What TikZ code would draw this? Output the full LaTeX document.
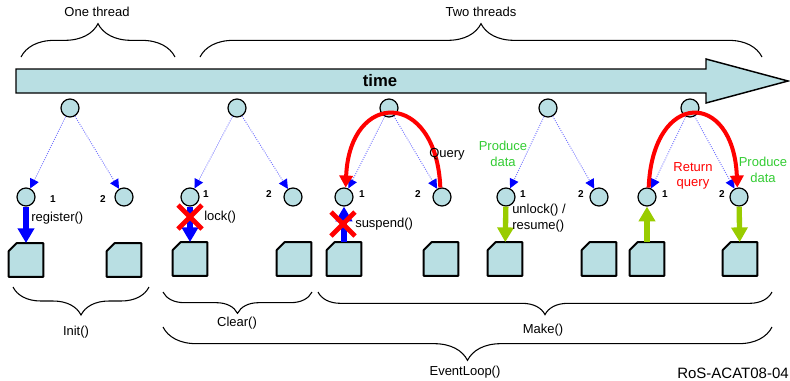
\documentclass[tikz,border=0pt]{standalone}
\usepackage{fontspec}
\setmainfont{Liberation Sans}
\usetikzlibrary{arrows.meta,shapes.misc,decorations.pathreplacing}

\definecolor{pale}{RGB}{185,223,227}
\definecolor{lime}{RGB}{153,204,0}
\definecolor{leafgreen}{RGB}{51,204,51}

\tikzset{
  thread/.style={draw,circle,fill=pale,line width=0.9pt,minimum size=13.5pt,inner sep=0pt},
  docbox/.style={minimum width=25.5pt,minimum height=25pt,inner sep=0pt,
    append after command={\pgfextra{\draw[fill=pale,line width=1.5pt,line join=round]
      (\tikzlastnode.south west) -- (\tikzlastnode.south east) -- (\tikzlastnode.north east)
      -- ([xshift=6pt]\tikzlastnode.north west) -- ([yshift=-6pt]\tikzlastnode.north west) -- cycle;}}},
  spawn/.style={densely dotted,draw=blue!55,line width=0.7pt,-{Triangle[width=7pt,length=7pt,color=blue]}},
  call/.style={line width=4pt,-{Triangle[width=12pt,length=11pt]}},
  query/.style={red,line width=3pt,-{Triangle[width=10pt,length=9pt]}},
  nope/.style={cross out,draw=red,line width=3.5pt,minimum size=14.5pt,inner sep=0pt},
  lbl/.style={font=\fontsize{9.75}{11.5}\selectfont,inner sep=0pt},
  num/.style={font=\bfseries\fontsize{7.5}{9}\selectfont,inner sep=0pt},
  topbrace/.style={decorate,decoration={brace,amplitude=#1},line width=0.8pt},
  lowbrace/.style={decorate,decoration={brace,mirror,amplitude=#1},line width=0.8pt},
}

\begin{document}
\begin{tikzpicture}[x=0.75pt,y=-0.75pt]
  \useasboundingbox (0,0) rectangle (790,380);

  % time line
  \draw[fill=pale,line width=1.1pt] (16,69) -- (706,69) -- (706,59) -- (788,81)
    -- (706,103) -- (706,93) -- (16,93) -- cycle;
  \node[font=\bfseries\fontsize{12.5}{14}\selectfont] (time) at (380,81) {time};

  % threads
  \node [thread] (r1) at (70,108) {};
  \node [thread] (r2) at (237,108) {};
  \node [thread] (r3) at (389,108) {};
  \node [thread] (r4) at (548,108) {};
  \node [thread] (r5) at (690,108) {};

  \node [thread] (c11) at (26,197) {};
  \node [thread] (c12) at (124,197) {};
  \node [thread] (c21) at (190,197) {};
  \node [thread] (c22) at (293,197) {};
  \node [thread] (c31) at (344,197) {};
  \node [thread] (c32) at (442,197) {};
  \node [thread] (c41) at (506,197) {};
  \node [thread] (c42) at (599,197) {};
  \node [thread] (c51) at (647,197) {};
  \node [thread] (c52) at (739,197) {};

  \node [num] (n11) at (53,199) {1};
  \node [num] (n12) at (103,199) {2};
  \node [num] (n21) at (206,194) {1};
  \node [num] (n22) at (269,194) {2};
  \node [num] (n31) at (362,194) {1};
  \node [num] (n32) at (418,194) {2};
  \node [num] (n41) at (523,194) {1};
  \node [num] (n42) at (581,194) {2};
  \node [num] (n51) at (665,194) {1};
  \node [num] (n52) at (722,194) {2};

  % data blocks
  \node [docbox] (b11) at (26,260) {};
  \node [docbox] (b12) at (124,260) {};
  \node [docbox] (b21) at (190,259) {};
  \node [docbox] (b22) at (294,259) {};
  \node [docbox] (b31) at (344,259) {};
  \node [docbox] (b32) at (441,259) {};
  \node [docbox] (b41) at (505,259) {};
  \node [docbox] (b42) at (599,259) {};
  \node [docbox] (b51) at (647,259) {};
  \node [docbox] (b52) at (740,259) {};

  \draw[spawn] (r1) -- (c11);
  \draw[spawn] (r1) -- (c12);
  \draw[spawn] (r2) -- (c21);
  \draw[spawn] (r2) -- (c22);
  \draw[spawn] (r3) -- (c31);
  \draw[spawn] (r3) -- (c32);
  \draw[spawn] (r4) -- (c41);
  \draw[spawn] (r4) -- (c42);
  \draw[spawn] (r5) -- (c51);
  \draw[spawn] (r5) -- (c52);

  % calls
  \draw[call,blue] (c11) -- (b11);
  \draw[call,blue] (c21) -- (b21);
  \draw[call,blue] (b31) -- (c31);
  \draw[call,lime] (c41) -- (b41);
  \draw[call,lime] (b51) -- (c51);
  \draw[call,lime] (c52) -- (b52);

  \node [nope] (x2) at (190,217) {};
  \node [nope] (x3) at (343,224) {};

  \draw[query] (c32.100) .. controls +(-4,-98) and +(4,-98) .. (c31.80);
  \draw[query] (c51.80) .. controls +(4,-98) and +(-4,-98) .. (c52.100);

  \node [lbl,anchor=west] (reg) at (31,218) {register()};
  \node [lbl,anchor=west] (lock) at (204,217) {lock()};
  \node [lbl,anchor=west] (susp) at (355,224) {suspend()};
  \node [lbl,anchor=west,align=left] (unlock) at (512,218) {unlock() /\\resume()};
  \node [lbl] (ask) at (447,154) {Query};
  \node [lbl,align=center,text=leafgreen] (prod4) at (503,154) {Produce\\data};
  \node [lbl,align=center,text=red] (ret) at (693,176) {Return\\query};
  \node [lbl,align=center,text=leafgreen] (prod5) at (763,170) {Produce\\data};

  % braces
  \draw[topbrace=25pt] (21,57) -- (175,57);
  \draw[topbrace=25pt] (200,57) -- (762,57);
  \node [lbl] (one) at (97,12) {One thread};
  \node [lbl] (two) at (481,12) {Two threads};

  \draw[lowbrace=21pt] (13,287) -- (149,287);
  \draw[lowbrace=16pt] (163,292) -- (312,292);
  \draw[lowbrace=17pt] (318,292) -- (772,292);
  \draw[lowbrace=25pt] (163,327) -- (772,327);
  \node [lbl] (init) at (76,332) {Init()};
  \node [lbl] (clear) at (237,323) {Clear()};
  \node [lbl] (make) at (543,330) {Make()};
  \node [lbl] (loop) at (465,372) {EventLoop()};

  \node [font=\fontsize{11.25}{13}\selectfont,anchor=base east,inner sep=0pt] (tag) at (789,378) {RoS-ACAT08-04};
\end{tikzpicture}
\end{document}
